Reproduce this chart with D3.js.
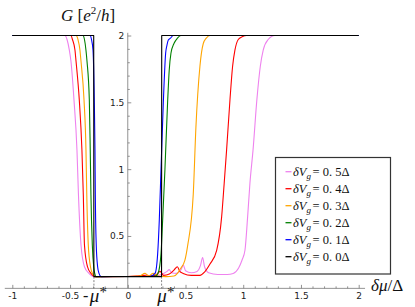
<!DOCTYPE html>
<html><head><meta charset="utf-8">
<script src="https://cdn.jsdelivr.net/npm/d3@7"></script>
<style>
html,body{margin:0;padding:0;background:#fff;}
svg{display:block;}
</style>
</head><body>
<svg id="c" width="415" height="307"></svg>
<script>
// ---- data ----
const seriesLabels = ["0.5", "0.4", "0.3", "0.2", "0.1", "0.0"];
const seriesColors = ["#ee82ee", "#ff0000", "#ffa500", "#008000", "#0000ff", "#000000"];

const xV05 = [-1,-0.544,-0.526,-0.506,-0.492,-0.466,-0.440,-0.427,-0.405,-0.375,-0.336,-0.293,-0.2,0.0,0.10,0.16,0.20,0.26,0.31,0.34,0.359,0.38,0.42,0.46,0.481,0.50,0.55,0.60,0.63,0.648,0.665,0.70,0.78,0.86,0.913,0.96,0.99,1.015,1.038,1.058,1.085,1.118,1.148,1.173,1.216,1.274,2];
const yV05 = [2,2,1.97,1.89,1.807,1.52,1.144,0.808,0.433,0.27,0.22,0.196,0.196,0.197,0.20,0.21,0.20,0.205,0.22,0.235,0.248,0.225,0.22,0.245,0.282,0.24,0.225,0.235,0.28,0.339,0.27,0.225,0.212,0.212,0.219,0.26,0.32,0.393,0.643,0.895,1.144,1.518,1.77,1.89,1.97,2.0,2];

const xV04 = [-1,-0.492,-0.479,-0.457,-0.448,-0.420,-0.397,-0.385,-0.375,-0.349,-0.319,-0.284,0.0,0.08,0.13,0.18,0.24,0.28,0.31,0.36,0.40,0.43,0.45,0.48,0.55,0.625,0.665,0.712,0.77,0.813,0.835,0.856,0.885,0.908,0.928,0.957,0.99,1.03,2];
const yV04 = [2,2,1.97,1.89,1.807,1.52,1.144,0.808,0.433,0.27,0.22,0.196,0.197,0.20,0.205,0.20,0.205,0.235,0.205,0.215,0.245,0.27,0.235,0.22,0.205,0.205,0.23,0.29,0.393,0.643,0.893,1.144,1.518,1.77,1.89,1.97,1.99,2.0,2];

const xV03 = [-1,-0.448,-0.431,-0.414,-0.405,-0.379,-0.362,-0.355,-0.342,-0.323,-0.306,-0.280,0.0,0.10,0.15,0.18,0.22,0.26,0.33,0.40,0.43,0.452,0.495,0.519,0.567,0.590,0.625,0.654,0.68,0.712,2];
const yV03 = [2,2,1.97,1.89,1.807,1.52,1.144,0.808,0.433,0.27,0.22,0.196,0.197,0.20,0.22,0.20,0.22,0.20,0.196,0.20,0.22,0.25,0.32,0.43,0.81,1.31,1.77,1.94,1.98,2.0,2];

const xV02 = [-1,-0.388,-0.375,-0.362,-0.353,-0.333,-0.325,-0.319,-0.307,-0.295,-0.286,-0.275,0.0,0.20,0.24,0.262,0.288,0.302,0.322,0.345,0.359,0.374,0.400,0.43,0.46,2];
const yV02 = [2,2,1.97,1.89,1.807,1.52,1.144,0.808,0.433,0.27,0.22,0.196,0.197,0.197,0.20,0.22,0.368,0.618,1.0,1.5,1.74,1.867,1.94,1.98,2.0,2];

const xV01 = [-1,-0.327,-0.314,-0.301,-0.290,-0.284,-0.281,-0.273,-0.261,-0.249,-0.232,0.0,0.19,0.236,0.259,0.273,0.288,0.308,0.328,0.340,0.351,0.37,0.394,2];
const yV01 = [2,2,1.97,1.89,1.52,1.144,0.808,0.433,0.27,0.22,0.196,0.197,0.197,0.22,0.368,0.618,1.0,1.5,1.867,1.93,1.966,1.98,2.0,2];

const xV00 = [-1,-0.295,-0.2935,0.2925,0.294,2];
const yV00 = [2,2,0.196,0.196,2,2];

const xTickValues = [-1,-0.5,0,0.5,1,1.5,2];
const xTickLabels = ["-1","-0.5","0","0.5","1","1.5","2"];
const yTickValues = [0.5,1,1.5,2];
const yTickLabels = ["0.5","1","1.5","2"];
const muStar = 0.293;
const gFloor = 0.196;

// ---- layout ----
const svg = d3.select("#c");
const x = d3.scaleLinear().domain([-1, 2]).range([12.3, 358.7]);
const y = d3.scaleLinear().domain([0, 2]).range([302.8, 35.5]);
const yAxisMin = 0.108;
const xAxisY = y(yAxisMin);
const axisColor = "#777";

// minor ticks
const xMinor = d3.range(-10, 21).map(d => d / 10).filter(v => Math.abs(v*2 - Math.round(v*2)) > 1e-6);
const yMinor = d3.range(2, 21).map(d => d / 10).filter(v => Math.abs(v*2 - Math.round(v*2)) > 1e-6);

// x axis
const gx = svg.append("g").attr("transform", `translate(0,${xAxisY})`);
gx.call(d3.axisBottom(x).tickValues(xTickValues).tickFormat((d,i) => xTickLabels[i]).tickSizeInner(-3.5).tickSizeOuter(0).tickPadding(4.5));
const gxm = svg.append("g").attr("transform", `translate(0,${xAxisY})`);
gxm.call(d3.axisBottom(x).tickValues(xMinor).tickFormat("").tickSizeInner(-2).tickSizeOuter(0));
gxm.select(".domain").remove();
gx.select(".domain").attr("d", `M${x(-1.065)},0H${x(2.055)}`);

// y axis
const gy = svg.append("g").attr("transform", `translate(${x(0)},0)`);
gy.call(d3.axisLeft(y).tickValues(yTickValues).tickFormat((d,i) => yTickLabels[i]).tickSizeInner(-3.5).tickSizeOuter(0).tickPadding(3.5));
const gym = svg.append("g").attr("transform", `translate(${x(0)},0)`);
gym.call(d3.axisLeft(y).tickValues(yMinor).tickFormat("").tickSizeInner(-2).tickSizeOuter(0));
gym.select(".domain").remove();
gy.select(".domain").attr("d", `M0,${xAxisY}V${y(2.02)}`);

svg.selectAll(".tick line, .domain").attr("stroke", axisColor).attr("stroke-width", 0.8);
svg.selectAll(".tick text").attr("font-family", "DejaVu Sans").attr("font-size", 9).attr("fill", "#222");

// dashed μ* markers
[-muStar, muStar].forEach(m => {
  svg.append("line").attr("x1", x(m)).attr("x2", x(m)).attr("y1", y(gFloor)).attr("y2", xAxisY)
    .attr("stroke", "#666").attr("stroke-width", 0.8).attr("stroke-dasharray", "2,1.5");
});

// μ* labels
function muLabel(m, neg) {
  const t = svg.append("text").attr("x", x(m) + 0.5).attr("y", 302).attr("text-anchor", "middle")
    .attr("font-family", "Liberation Serif").attr("font-size", 19).attr("fill", "#111");
  t.append("tspan").attr("font-style", "italic").text("μ");
  if (neg) {
    svg.append("text").attr("x", x(m) - 5.5).attr("y", 301).attr("text-anchor", "end")
      .attr("font-family", "Liberation Serif").attr("font-size", 16).attr("fill", "#111").text("-");
  }
  svg.append("text").attr("x", x(m) + 5.5).attr("y", 297).attr("font-family", "Liberation Serif")
    .attr("font-size", 15).attr("fill", "#111").text("*");
}
muLabel(-muStar, true);
muLabel(muStar, false);

// curves
const allX = [xV05, xV04, xV03, xV02, xV01, xV00];
const allY = [yV05, yV04, yV03, yV02, yV01, yV00];
const plot = svg.append("g");
allX.forEach((xs, i) => {
  const pts = xs.map((v, j) => [v, allY[i][j]]);
  const line = d3.line().x(d => x(d[0])).y(d => y(d[1]))
    .curve(i === 5 ? d3.curveLinear : d3.curveMonotoneX);
  plot.append("path").attr("d", line(pts)).attr("fill", "none")
    .attr("stroke", seriesColors[i]).attr("stroke-width", 1.1).attr("stroke-linejoin", "round");
});

// axis titles
const yt = svg.append("text").attr("x", 61).attr("y", 21).attr("font-family", "Liberation Serif").attr("font-size", 17).attr("fill", "#111");
yt.append("tspan").attr("font-style", "italic").text("G");
yt.append("tspan").text(" [");
yt.append("tspan").attr("font-style", "italic").text("e");
yt.append("tspan").attr("font-size", 11).attr("dy", -7).text("2");
yt.append("tspan").attr("dy", 7).text("/");
yt.append("tspan").attr("font-style", "italic").text("h");
yt.append("tspan").text("]");

const xt = svg.append("text").attr("x", 371).attr("y", 291).attr("font-family", "Liberation Serif").attr("font-size", 17).attr("fill", "#111");
xt.append("tspan").attr("font-style", "italic").text("δμ");
xt.append("tspan").text("/Δ");

// legend
const lg = svg.append("g");
lg.append("rect").attr("x", 275.5).attr("y", 157.5).attr("width", 115).attr("height", 116.5)
  .attr("fill", "#fff").attr("stroke", "#333").attr("stroke-width", 1.2);
seriesLabels.forEach((lab, i) => {
  const cy = 171.7 + 17 * i;
  lg.append("line").attr("x1", 285.5).attr("x2", 291.5).attr("y1", cy).attr("y2", cy)
    .attr("stroke", seriesColors[i]).attr("stroke-width", 1.3);
  const t = lg.append("text").attr("x", 293).attr("y", cy + 4.5).attr("font-family", "Liberation Serif")
    .attr("font-size", 12.5).attr("fill", "#111");
  t.append("tspan").attr("font-style", "italic").text("δV");
  t.append("tspan").attr("font-style", "italic").attr("font-size", 9).attr("dy", 3).text("g");
  t.append("tspan").attr("dy", -3).attr("dx", 1.5).text("= ");
  t.append("tspan").text(lab.replace(".", ". ") + "Δ");
});
</script>
</body></html>
